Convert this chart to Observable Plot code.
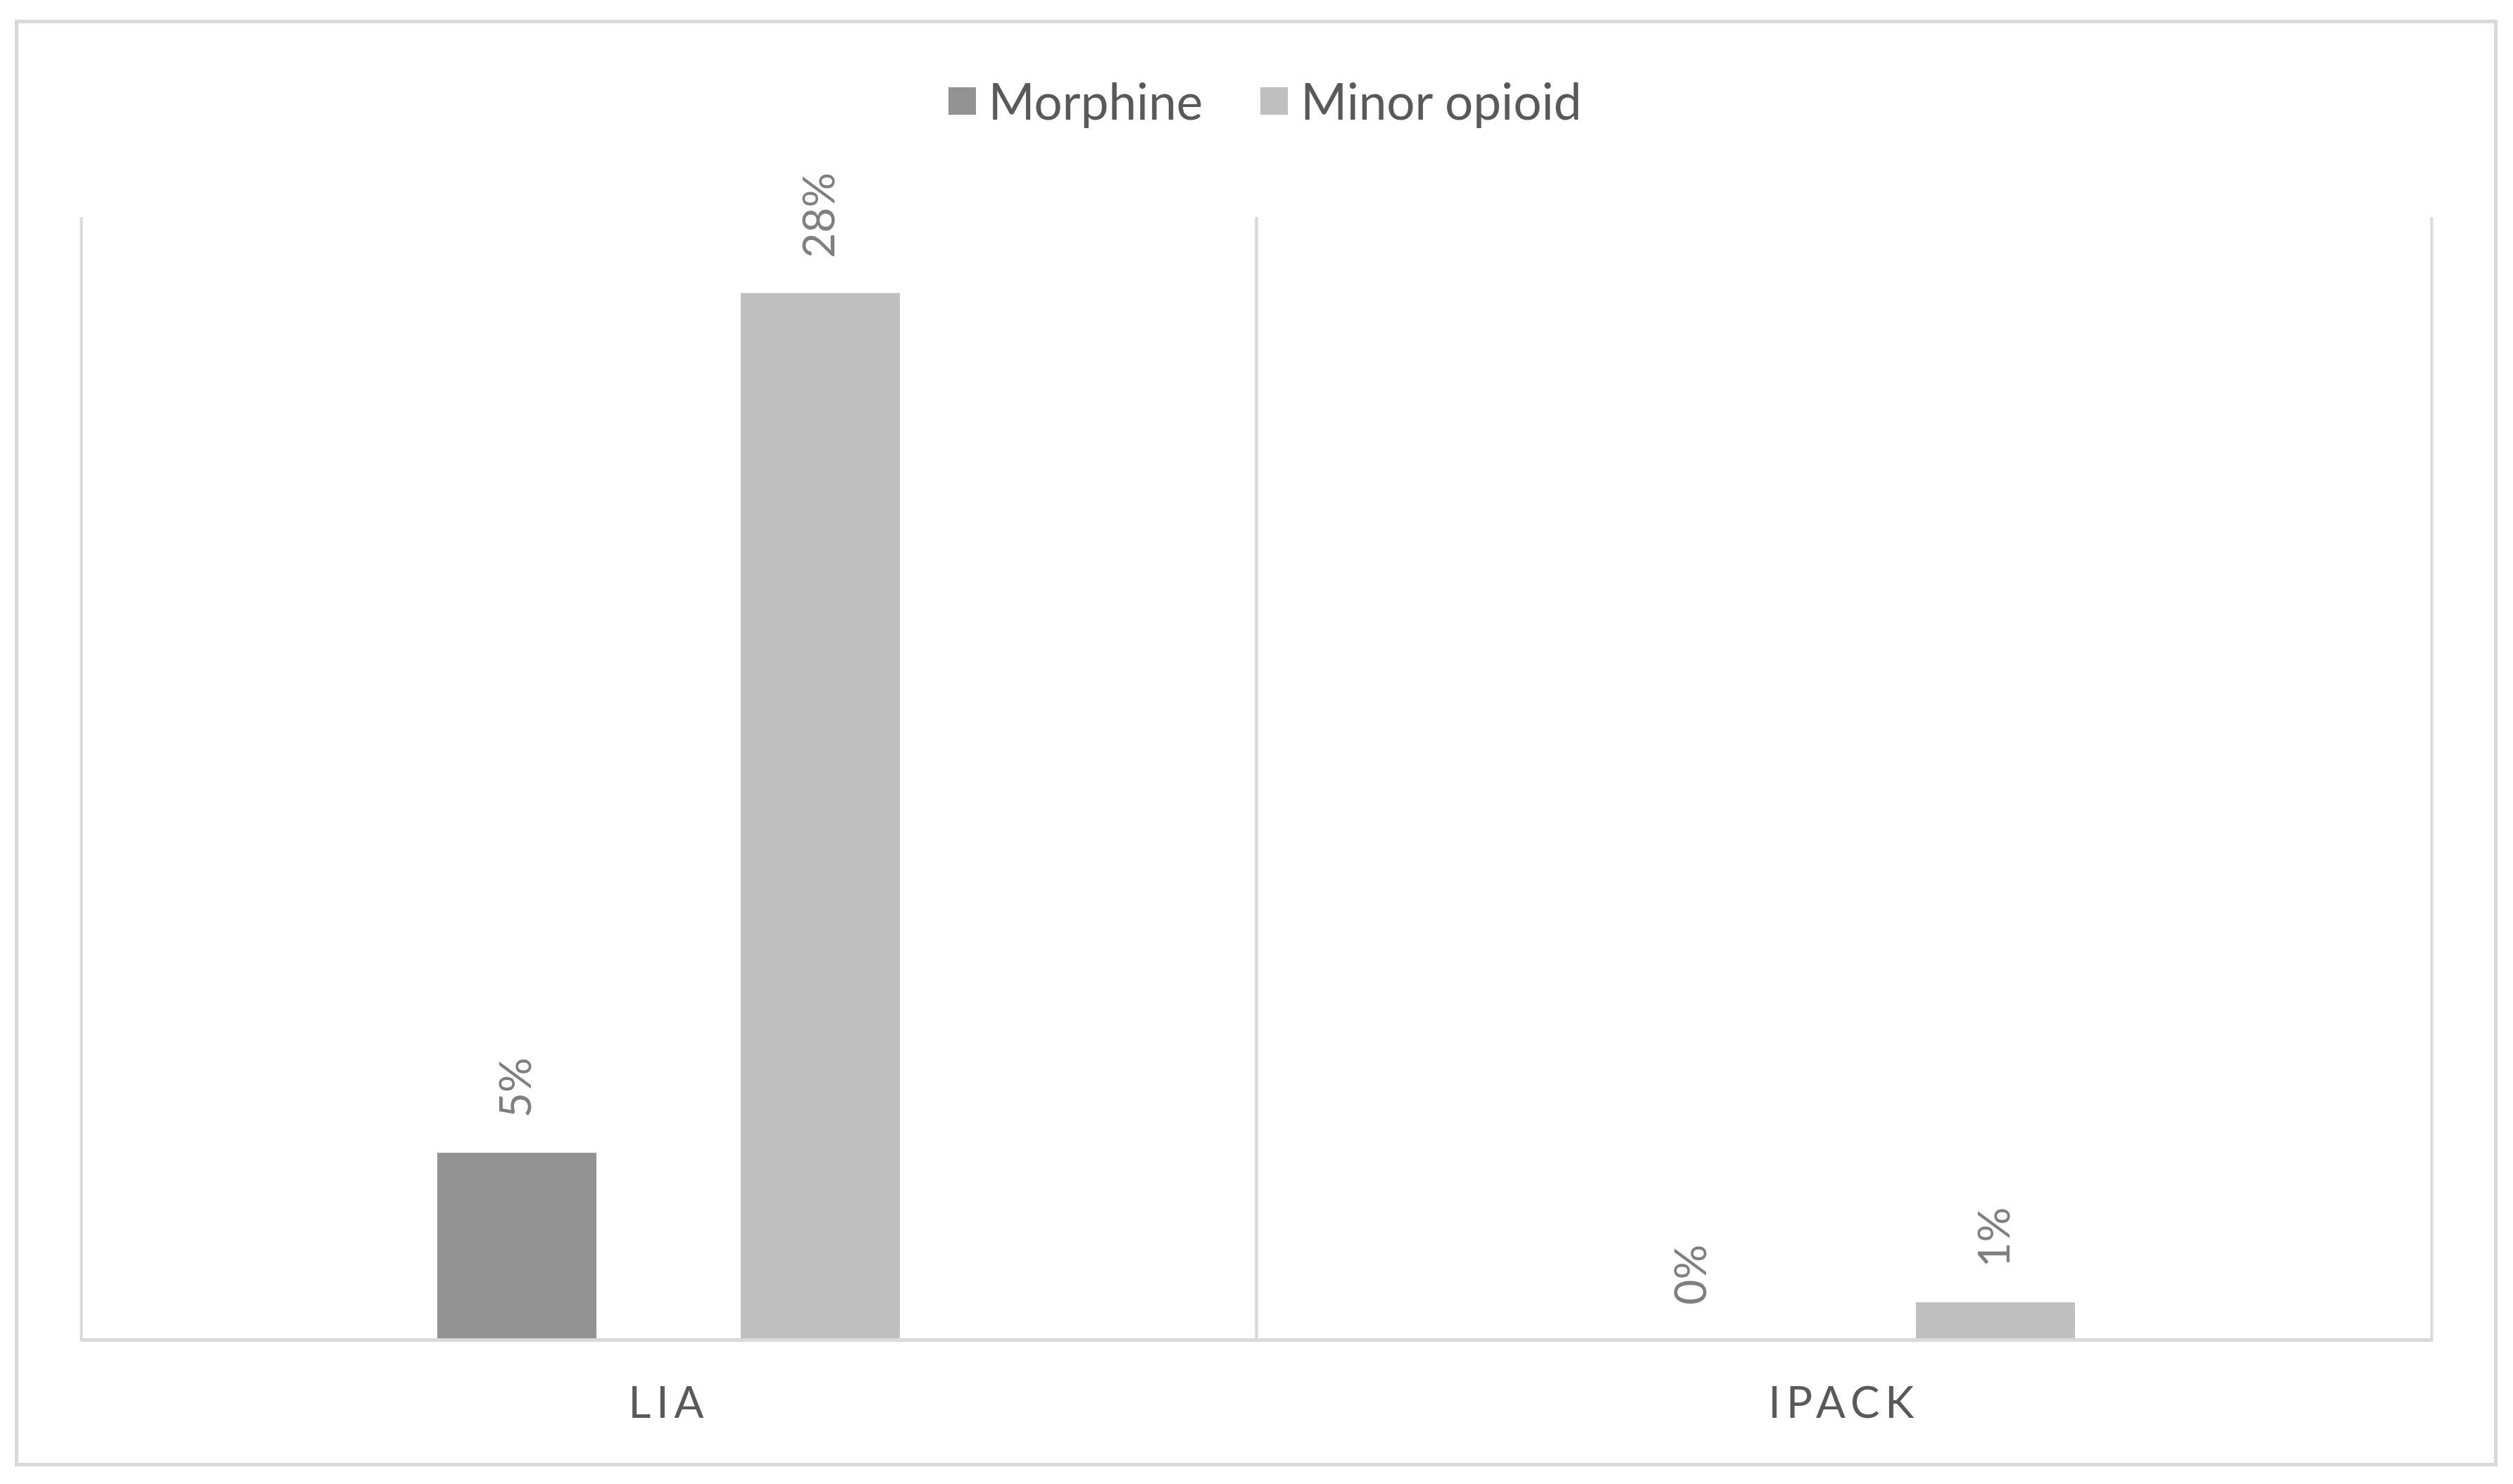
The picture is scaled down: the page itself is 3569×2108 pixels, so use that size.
<!DOCTYPE html>
<html><head><meta charset="utf-8">
<script src="https://cdn.jsdelivr.net/npm/d3@7"></script>
<script src="https://cdn.jsdelivr.net/npm/@observablehq/plot@0.6"></script>
<style>
html,body{margin:0;padding:0;background:#fff;}
body{width:3569px;height:2108px;position:relative;overflow:hidden;font-family:Lato,"Open Sans",sans-serif;}
#border{position:absolute;left:21px;top:28px;width:3526px;height:2055px;box-sizing:border-box;border:5px solid #d9d9d9;}
#legend{position:absolute;left:12px;top:108px;width:3569px;display:flex;justify-content:center;align-items:center;gap:82px;font-size:71px;color:#595959;line-height:70px;}
.item{display:flex;align-items:center;gap:18px;}
.sw{width:39px;height:39px;display:inline-block;}
#chart{position:absolute;left:0;top:0;}
#chart svg [aria-label="fx-axis tick label"] text{letter-spacing:8px;}
</style></head><body>
<div id="border"></div>
<div id="legend"></div>
<div id="chart"></div>
<script>
const groups = ["LIA", "IPACK"];
const series = ["Morphine", "Minor opioid"];
const morphine = [5, 0];
const minorOpioid = [28, 1];
const colors = ["#939393", "#bfbfbf"];
const yMax = 30;

const data = groups.flatMap((g, i) => [
  {group: g, series: series[0], value: morphine[i]},
  {group: g, series: series[1], value: minorOpioid[i]}
]);

const legend = document.getElementById("legend");
series.forEach((s, i) => {
  const item = document.createElement("div");
  item.className = "item";
  const sw = document.createElement("span");
  sw.className = "sw";
  sw.style.background = colors[i];
  const t = document.createElement("span");
  t.textContent = s;
  item.appendChild(sw); item.appendChild(t);
  legend.appendChild(item);
});

const chart = Plot.plot({
  width: 3569, height: 2108,
  marginLeft: 114, marginRight: 116, marginTop: 310, marginBottom: 205,
  style: {fontFamily: "Lato, 'Open Sans', sans-serif", background: "transparent", overflow: "visible"},
  fx: {domain: groups, padding: 0, label: null},
  x: {domain: series, paddingInner: 0.4745, paddingOuter: 1.169, axis: null},
  y: {domain: [0, yMax], axis: null},
  color: {domain: series, range: colors},
  marks: [
    Plot.frame({anchor: "left", stroke: "#d9d9d9", strokeWidth: 4}),
    Plot.frame({anchor: "right", stroke: "#d9d9d9", strokeWidth: 4}),
    Plot.barY(data, {fx: "group", x: "series", y: "value", fill: "series"}),
    Plot.ruleY([0], {stroke: "#d9d9d9", strokeWidth: 5}),
    Plot.text(data, {fx: "group", x: "series", y: "value", text: d => d.value + "%", rotate: -90, textAnchor: "start", lineAnchor: "middle", dy: -50, fill: "#7f7f7f", fontSize: 62}),
    Plot.axisFx({anchor: "bottom", tickSize: 0, tickPadding: 66, fontSize: 62, fill: "#595959", label: null})
  ]
});
document.getElementById("chart").appendChild(chart);
</script>
</body></html>
